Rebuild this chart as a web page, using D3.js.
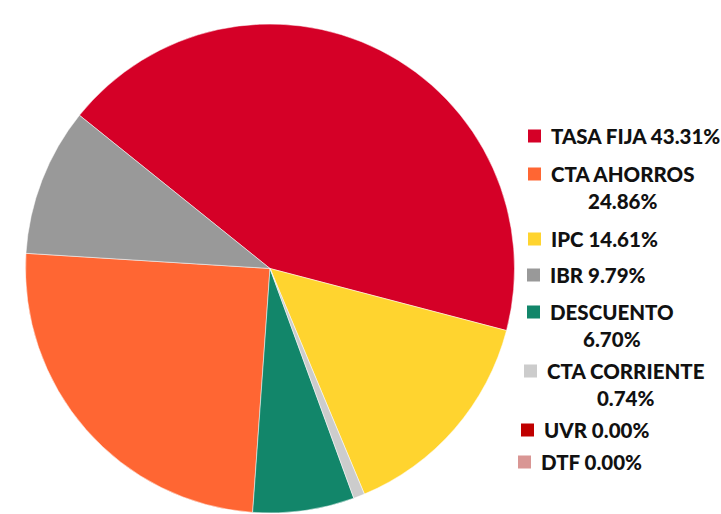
<!DOCTYPE html>
<html>
<head>
<meta charset="utf-8">
<script src="https://cdn.jsdelivr.net/npm/d3@7"></script>
<style>
  body { margin: 0; background: #fff; overflow: hidden; }
  svg { display: block; }
  .legend text { font-family: Lato, "Open Sans", sans-serif; font-weight: 900; font-size: 20.5px; fill: #111; }
</style>
</head>
<body>
<script>
// data (legend order)
var categories = ["TASA FIJA", "CTA AHORROS", "IPC", "IBR", "DESCUENTO", "CTA CORRIENTE", "UVR", "DTF"];
var values = [43.31, 24.86, 14.61, 9.79, 6.70, 0.74, 0.00, 0.00];
var colors = ["#d50027", "#ff6633", "#ffd42f", "#999999", "#12866a", "#cccccc", "#c00000", "#d99694"];
// order of slices clockwise round the pie
var pieOrder = ["TASA FIJA", "IPC", "CTA CORRIENTE", "DESCUENTO", "CTA AHORROS", "IBR", "UVR", "DTF"];
// legend labels, split where the picture wraps them
var legendLines = [
    ["TASA FIJA 43.31%"],
    ["CTA AHORROS", "24.86%"],
    ["IPC 14.61%"],
    ["IBR 9.79%"],
    ["DESCUENTO", "6.70%"],
    ["CTA CORRIENTE", "0.74%"],
    ["UVR 0.00%"],
    ["DTF 0.00%"]
];

var width = 721, height = 514;
var cx = 270, cy = 268.5, radius = 244.5;
var startAngle = -51.2 * Math.PI / 180;

// legend layout
var legendX = [528, 528, 528, 527, 527, 524, 521, 518];
var legendY = [136, 174, 239, 275, 312, 371, 430, 462];
var lineHeight = 27;

var svg = d3.select("body").append("svg")
    .attr("width", width)
    .attr("height", height);

var data = categories.map(function (c, i) {
    return {name: c, value: values[i], color: colors[i], lines: legendLines[i]};
});

var pie = d3.pie()
    .value(function (d) { return d.value; })
    .sort(function (a, b) { return pieOrder.indexOf(a.name) - pieOrder.indexOf(b.name); })
    .startAngle(startAngle)
    .endAngle(startAngle + 2 * Math.PI);

var arc = d3.arc().innerRadius(0).outerRadius(radius);

var pieG = svg.append("g")
    .attr("transform", "translate(" + cx + "," + cy + ")");

pieG.selectAll("path")
    .data(pie(data).filter(function (d) { return d.data.value > 0; }))
    .enter()
    .append("path")
    .attr("d", arc)
    .style("fill", function (d) { return d.data.color; })
    .style("stroke", "#fff")
    .style("stroke-width", 0.5);

// legend
var legendG = svg.append("g").attr("class", "legend");

var items = legendG.selectAll("g.item")
    .data(data)
    .enter()
    .append("g")
    .attr("class", "item")
    .attr("transform", function (d, i) { return "translate(" + legendX[i] + "," + legendY[i] + ")"; });

items.append("rect")
    .attr("x", 0)
    .attr("y", -6.5)
    .attr("width", 13)
    .attr("height", 13)
    .style("fill", function (d) { return d.color; });

items.each(function (d) {
    var g = d3.select(this);
    var first = g.append("text")
        .attr("x", 23)
        .attr("y", 7.5)
        .text(d.lines[0]);
    if (d.lines.length > 1) {
        var w = first.node().getComputedTextLength();
        g.append("text")
            .attr("x", 23 + w / 2)
            .attr("y", 7.5 + lineHeight)
            .attr("text-anchor", "middle")
            .text(d.lines[1]);
    }
});
</script>
</body>
</html>
